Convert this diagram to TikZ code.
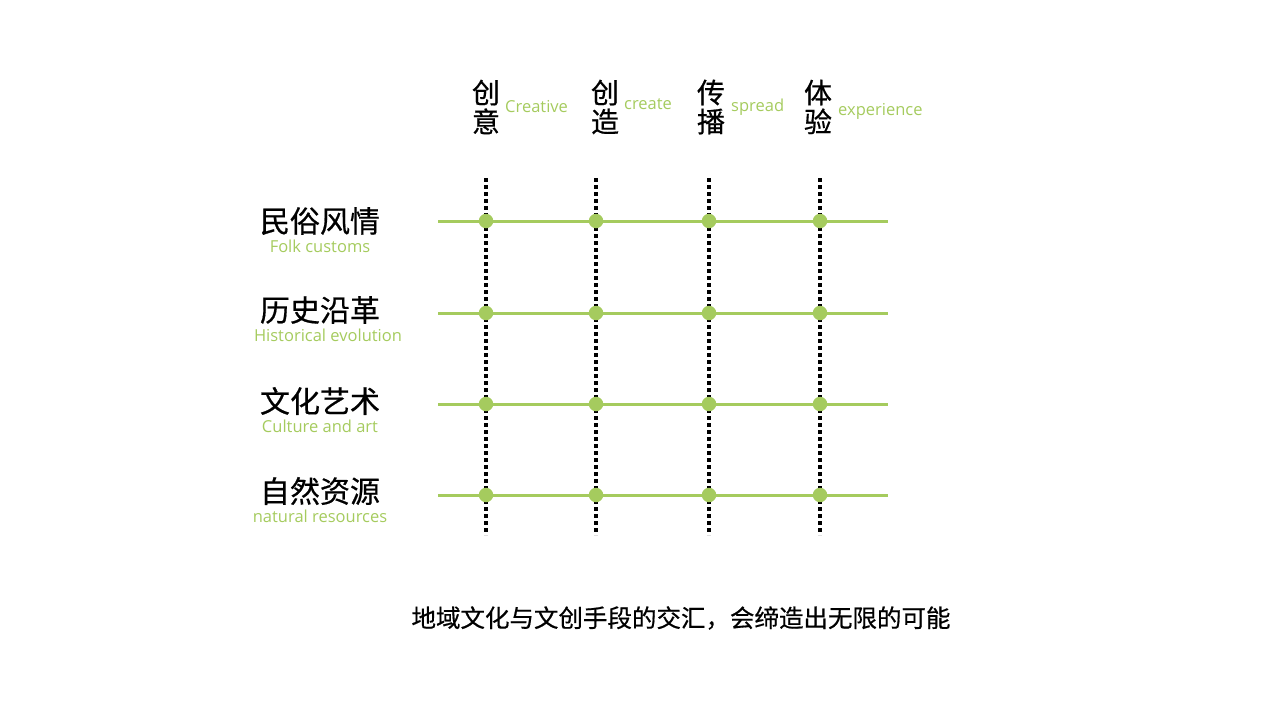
\documentclass[tikz,border=0pt]{standalone}
\usepackage{fontspec}
\setmainfont{Open Sans}
\newfontfamily\cjk[FakeBold=0.6]{Noto Sans CJK SC}
\usetikzlibrary{positioning}
\definecolor{leaf}{HTML}{A5CB5E}

\begin{document}
\begin{tikzpicture}[x=1pt,y=-1pt,
        gridline/.style={leaf,line width=3pt},
        guide/.style={black,line width=3.2pt,dash pattern=on 4pt off 3pt},
        knot/.style={circle,fill=leaf,inner sep=0pt,minimum size=14.5pt},
        topic/.style={font=\cjk\fontsize{30}{30}\selectfont,inner sep=0pt},
        gloss/.style={font=\fontsize{16.5}{16.5}\selectfont,text=leaf,inner sep=0pt},
        head/.style={font=\cjk\fontsize{28}{29}\selectfont,align=center,inner sep=0pt}]
    \useasboundingbox (0,0) rectangle (1280,720);
    % columns
    \node[head] (h1) at (486,107) {创\\意};
    \node[head] (h2) at (605,107) {创\\造};
    \node[head] (h3) at (711,107) {传\\播};
    \node[head] (h4) at (818,107) {体\\验};
    \node[gloss,anchor=west] (e1) at (505,107) {Creative};
    \node[gloss,anchor=west] (e2) at (624,104) {create};
    \node[gloss,anchor=west] (e3) at (731,107) {spread};
    \node[gloss,anchor=west] (e4) at (838,111) {experience};
    % rows
    \node[topic] (t1) at (320,221) {民俗风情};
    \node[topic] (t2) at (320,310) {历史沿革};
    \node[topic] (t3) at (320,401) {文化艺术};
    \node[topic] (t4) at (320,491) {自然资源};
    \node[gloss,below=20pt of t1.base,anchor=base] (g1) {Folk customs};
    \node[gloss,below=20pt of t2.base,xshift=8pt,anchor=base] (g2) {Historical evolution};
    \node[gloss,below=20pt of t3.base,anchor=base] (g3) {Culture and art};
    \node[gloss,below=20pt of t4.base,anchor=base] (g4) {natural resources};
    % grid
    \foreach \c/\x in {1/486,2/596,3/709,4/820} {
        \coordinate (c\c t) at (\x,178);
        \coordinate (c\c b) at (\x,535);
        \draw[guide] (c\c t) -- (c\c b);
    }
    \foreach \r/\y in {1/221,2/313,3/404,4/495} {
        \coordinate (r\r l) at (438,\y);
        \coordinate (r\r r) at (888,\y);
        \draw[gridline] (r\r l) -- (r\r r);
        \foreach \c/\x in {1/486,2/596,3/709,4/820}
            \node[knot] (k\r\c) at (\x,\y) {};
    }
    \node[font=\cjk\fontsize{24.5}{24.5}\selectfont] (note) at (681,618) {地域文化与文创手段的交汇，会缔造出无限的可能};
\end{tikzpicture}
\end{document}
